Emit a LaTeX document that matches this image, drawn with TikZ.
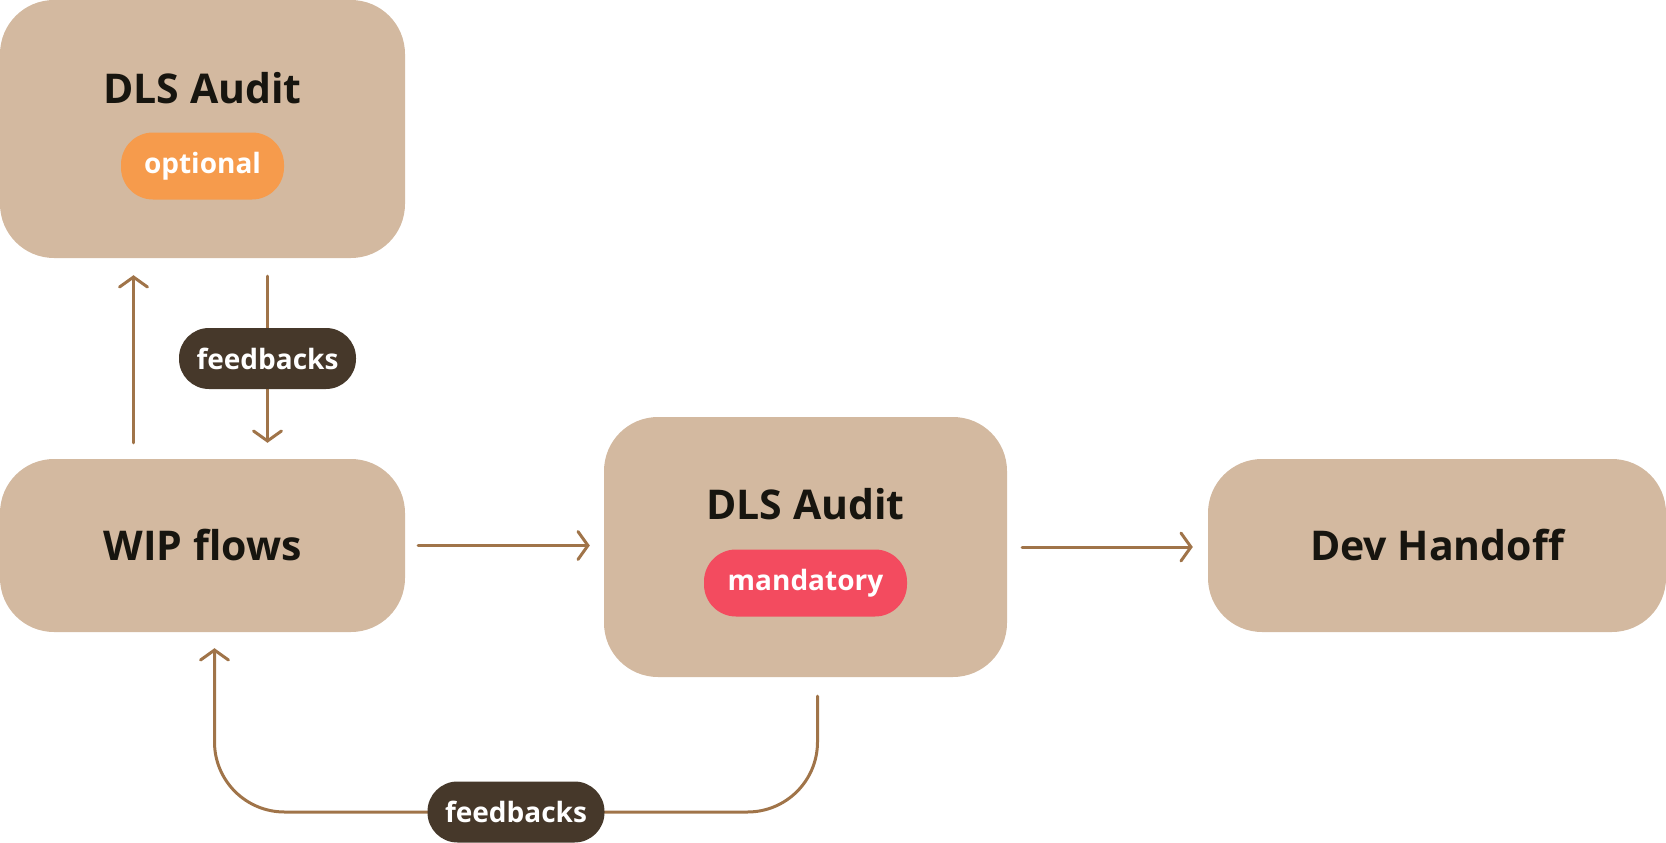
\documentclass[tikz,border=0pt]{standalone}
\usepackage{fontspec}
\setmainfont{Open Sans}
\usetikzlibrary{arrows.meta, positioning}

\definecolor{boxtan}{HTML}{D3B9A0}
\definecolor{flowbrown}{HTML}{A07449}
\definecolor{optorange}{HTML}{F69B4C}
\definecolor{mandred}{HTML}{F34B5F}
\definecolor{pilldark}{HTML}{46382A}
\definecolor{inkdark}{HTML}{17150F}

\tikzset{
  stage/.style={fill=boxtan, rounded corners=54pt, inner sep=0pt},
  stagetitle/.style={text=inkdark, inner sep=0pt, font=\fontsize{41}{48}\selectfont\bfseries},
  tag/.style={rounded corners=32pt, minimum height=67pt, text=white, inner sep=0pt,
    font=\fontsize{28}{34}\selectfont\bfseries},
  fbtag/.style={tag, fill=pilldark, minimum width=177pt, minimum height=61pt, rounded corners=30pt},
  flow/.style={draw=flowbrown, line width=3pt, line cap=round,
    -{Straight Barb[length=10pt, width=28pt, line cap=round]}},
}

\begin{document}
\begin{tikzpicture}[x=1pt,y=-1pt]
\useasboundingbox (0,0) rectangle (1666,843);

% Stages
\node[stage, minimum width=405pt, minimum height=258pt] (audit1) at (202.5,129) {};
\node[stagetitle] (audit1title) at ([yshift=41pt]audit1.center) {DLS Audit};
\node[tag, fill=optorange, minimum width=163pt] (audit1tag) at ([yshift=-37pt]audit1.center) {optional};

\node[stage, minimum width=405pt, minimum height=173pt] (wip) at (202.5,545.5) {};
\node[stagetitle] (wiptitle) at (wip.center) {WIP flows};

\node[stage, minimum width=403pt, minimum height=260pt] (audit2) at (805.5,547) {};
\node[stagetitle] (audit2title) at ([yshift=43pt]audit2.center) {DLS Audit};
\node[tag, fill=mandred, minimum width=203pt] (audit2tag) at ([yshift=-36pt]audit2.center) {mandatory};

\node[stage, minimum width=458pt, minimum height=173pt] (dev) at (1437,545.5) {};
\node[stagetitle] (devtitle) at (dev.center) {Dev Handoff};

% Flows between stages
\draw[flow, shorten <=16pt, shorten >=17pt] ([xshift=-69pt]wip.north) -- ([xshift=-69pt]audit1.south);
\draw[flow, shorten <=18pt, shorten >=16pt] ([xshift=65pt]audit1.south) -- ([xshift=65pt]wip.north)
  node[midway, fbtag] (fb1) {feedbacks};

\draw[flow, shorten <=13pt, shorten >=14pt] (wip.east) -- (wip.east -| audit2.west);
\draw[flow, shorten <=15pt, shorten >=15pt] (audit2.east) -- (audit2.east -| dev.west);

% Feedback loop from mandatory audit
\coordinate (loopmid) at (516,812);
\draw[flow, rounded corners=70pt, shorten <=19pt, shorten >=16pt]
  ([xshift=12pt]audit2.south) |- (loopmid) -| ([xshift=12pt]wip.south);
\node[fbtag] (fb2) at (loopmid) {feedbacks};
\end{tikzpicture}
\end{document}
